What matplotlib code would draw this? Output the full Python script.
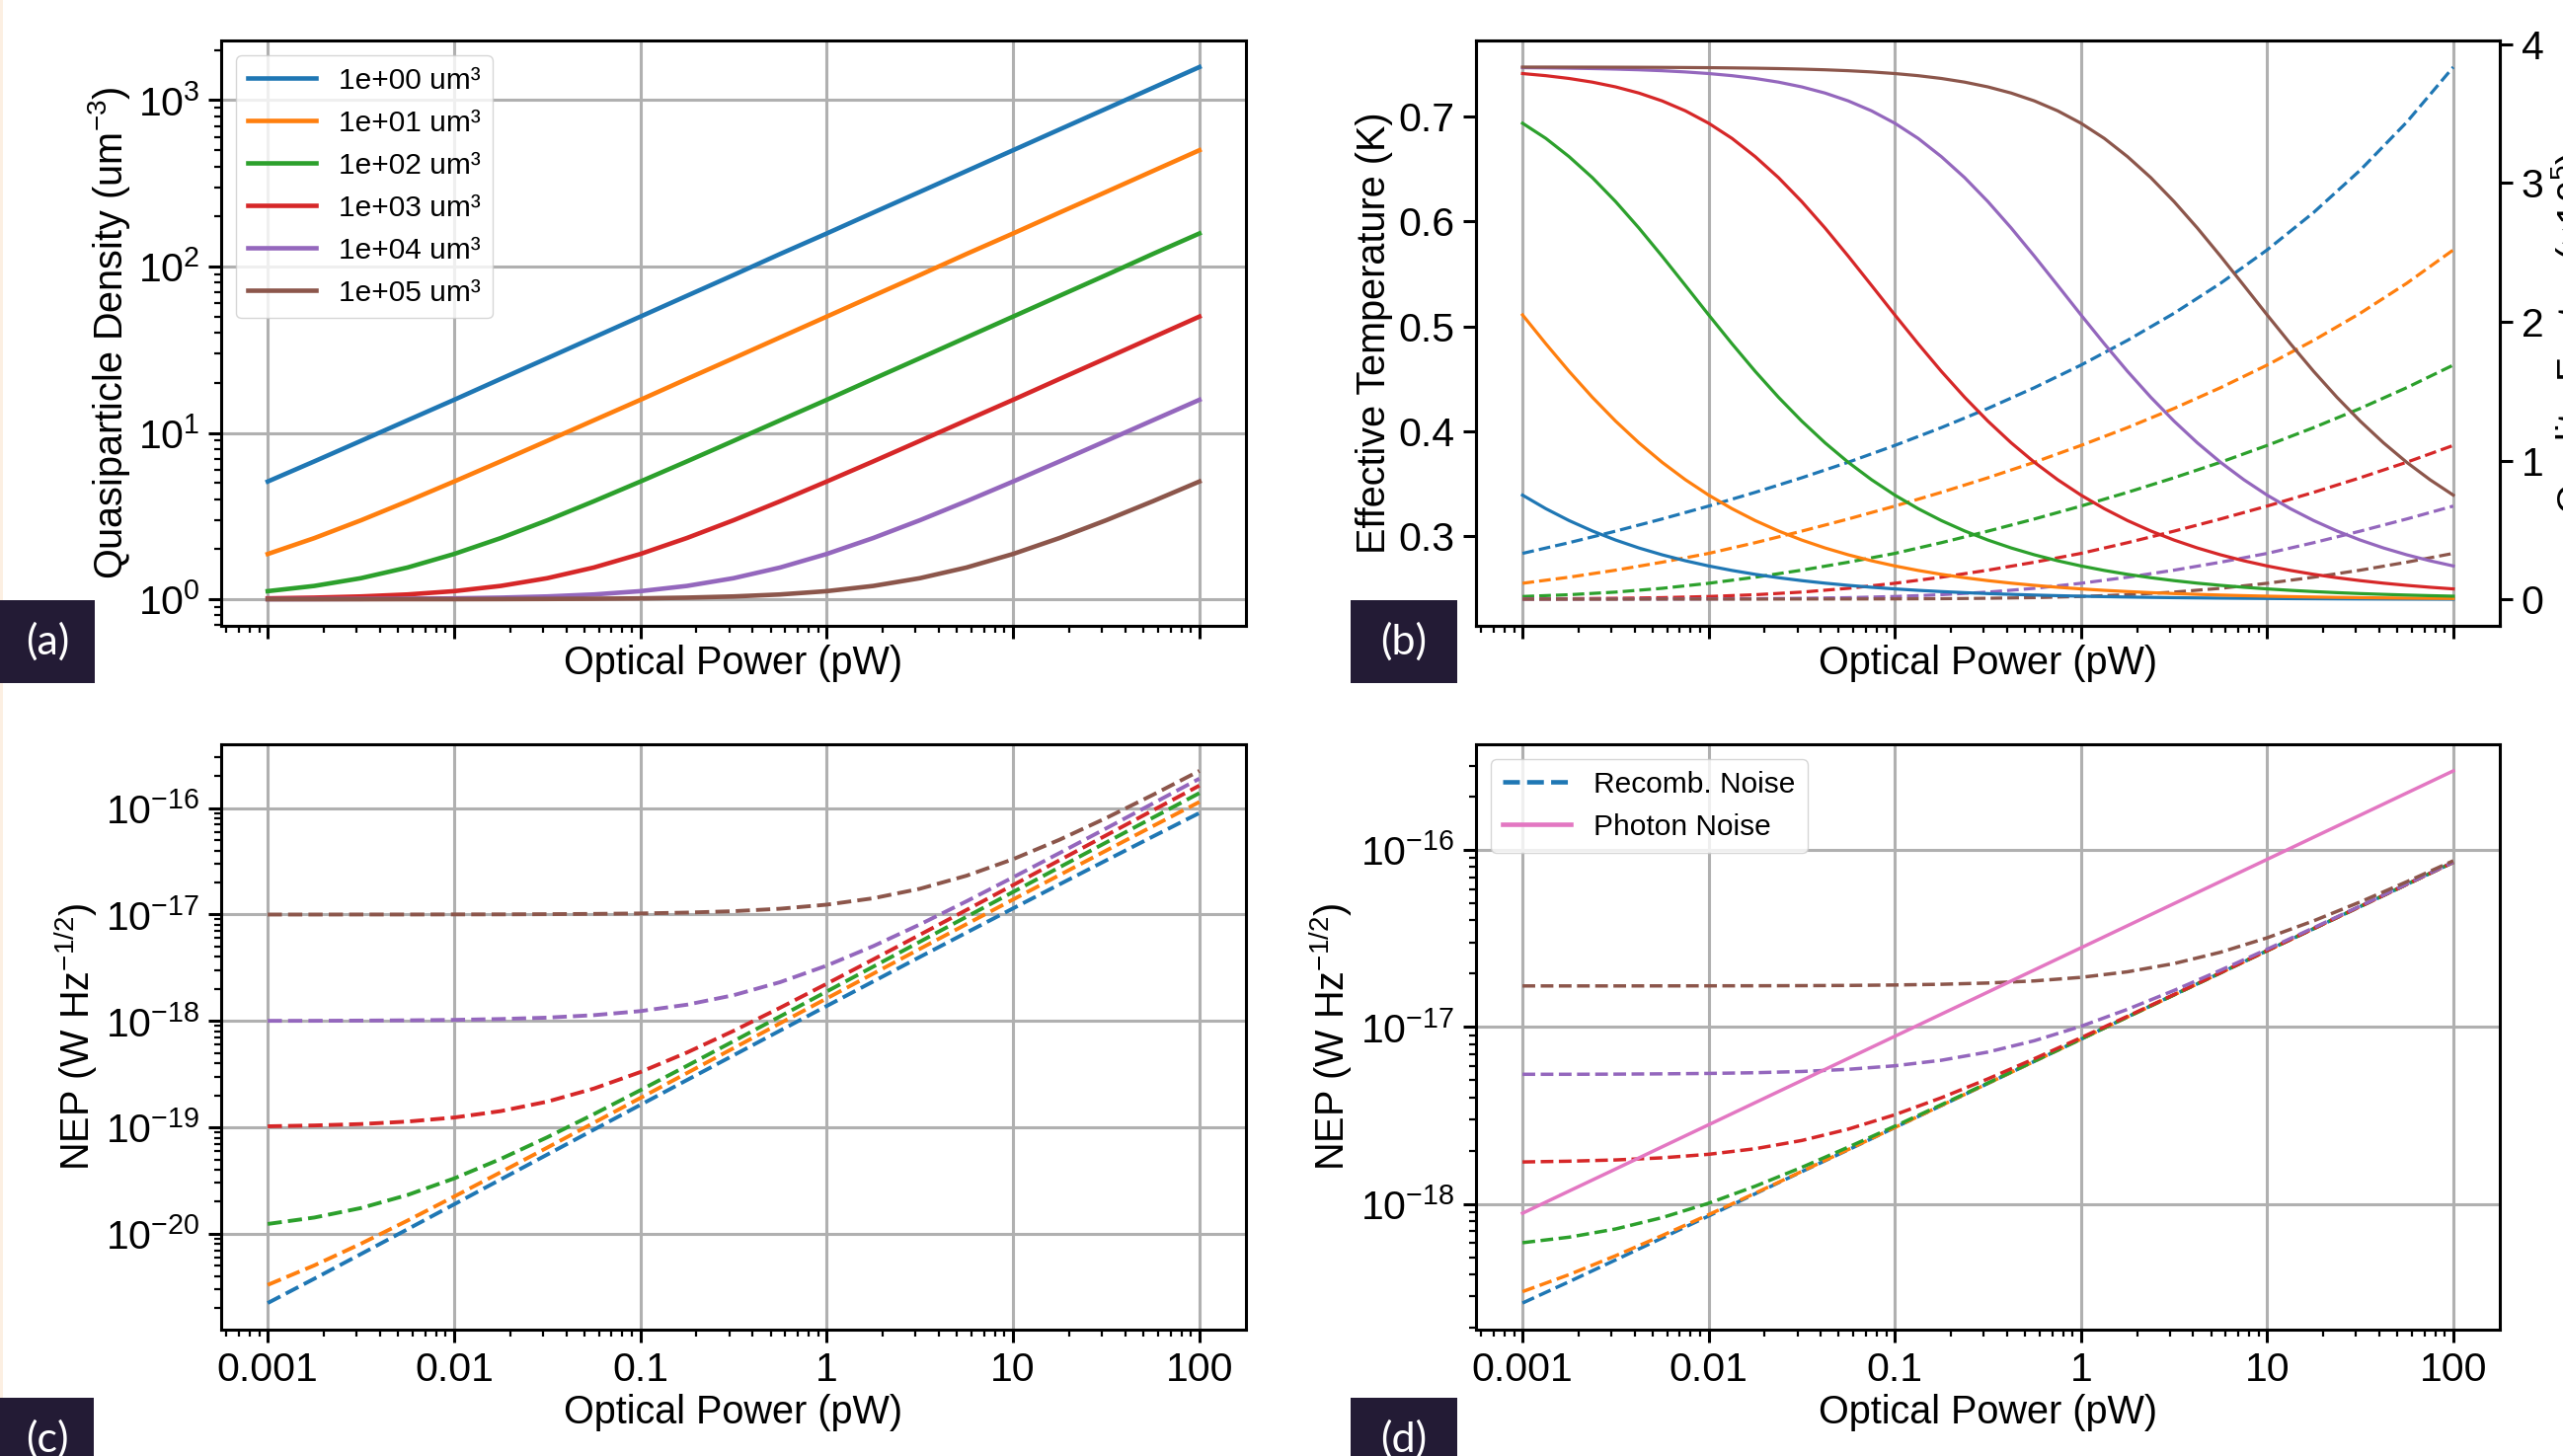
import matplotlib
matplotlib.use("Agg")
import matplotlib.pyplot as plt
from matplotlib.lines import Line2D
from matplotlib.patches import Rectangle

plt.rcParams["font.family"] = ["Liberation Sans", "DejaVu Sans"]
plt.rcParams["mathtext.fontset"] = "custom"
plt.rcParams["mathtext.rm"] = "Liberation Sans"
plt.rcParams["mathtext.it"] = "Liberation Sans:italic"
plt.rcParams["mathtext.bf"] = "Liberation Sans:bold"
plt.rcParams["axes.linewidth"] = 2.2
plt.rcParams["xtick.major.size"] = 9.5
plt.rcParams["ytick.major.size"] = 9.5
plt.rcParams["xtick.minor.size"] = 5.0
plt.rcParams["ytick.minor.size"] = 5.0
plt.rcParams["xtick.major.width"] = 2.2
plt.rcParams["ytick.major.width"] = 2.2
plt.rcParams["xtick.minor.width"] = 1.6
plt.rcParams["ytick.minor.width"] = 1.6
plt.rcParams["xtick.major.pad"] = 6
plt.rcParams["ytick.major.pad"] = 6
plt.rcParams["xtick.labelsize"] = 29.5
plt.rcParams["ytick.labelsize"] = 29.5
plt.rcParams["axes.labelsize"] = 28.5
plt.rcParams["grid.color"] = "#b0b0b0"
plt.rcParams["grid.linewidth"] = 2.2

# optical power grid (pW), quarter decades
power = [0.001, 0.001778, 0.003162, 0.005623, 0.01, 0.01778, 0.03162, 0.05623,
         0.1, 0.1778, 0.3162, 0.5623, 1, 1.778, 3.162, 5.623, 10, 17.78,
         31.62, 56.23, 100]
# eighth-decade grid used for the quality factor curves of (b)
power_fine = [0.001, 0.001334, 0.001778, 0.002371, 0.003162, 0.004217, 0.005623,
              0.007499, 0.01, 0.01334, 0.01778, 0.02371, 0.03162, 0.04217,
              0.05623, 0.07499, 0.1, 0.1334, 0.1778, 0.2371, 0.3162, 0.4217,
              0.5623, 0.7499, 1, 1.334, 1.778, 2.371, 3.162, 4.217, 5.623,
              7.499, 10, 13.34, 17.78, 23.71, 31.62, 42.17, 56.23, 74.99, 100]

volume_labels = ["1e+00 um³", "1e+01 um³", "1e+02 um³",
                 "1e+03 um³", "1e+04 um³", "1e+05 um³"]

# (a) quasiparticle density (um^-3)
density_1e0 = [5.10, 6.74, 8.95, 11.9, 15.8, 21.1, 28.1, 37.5, 50.0, 66.7, 88.9,
               119, 158, 211, 281, 375, 500, 667, 889, 1186, 1581]
density_1e1 = [1.87, 2.33, 2.98, 3.88, 5.10, 6.74, 8.95, 11.9, 15.8, 21.1, 28.1,
               37.5, 50.0, 66.7, 88.9, 119, 158, 211, 281, 375, 500]
density_1e2 = [1.118, 1.202, 1.338, 1.551, 1.87, 2.33, 2.98, 3.88, 5.10, 6.74,
               8.95, 11.9, 15.8, 21.1, 28.1, 37.5, 50.0, 66.7, 88.9, 119, 158]
density_1e3 = [1.012, 1.022, 1.039, 1.068, 1.118, 1.202, 1.338, 1.551, 1.871,
               2.334, 2.984, 3.881, 5.10, 6.74, 8.95, 11.9, 15.8, 21.1, 28.1,
               37.5, 50.0]
density_1e4 = [1.001, 1.002, 1.004, 1.007, 1.012, 1.022, 1.039, 1.068, 1.118,
               1.202, 1.338, 1.551, 1.871, 2.334, 2.984, 3.881, 5.10, 6.74,
               8.95, 11.9, 15.8]
density_1e5 = [1.000, 1.000, 1.000, 1.001, 1.001, 1.002, 1.004, 1.007, 1.012,
               1.022, 1.039, 1.068, 1.118, 1.202, 1.338, 1.551, 1.871, 2.334,
               2.984, 3.881, 5.10]

# (b) effective temperature (K), dashed, left axis
temp_1e0 = [0.2837, 0.2939, 0.3049, 0.3165, 0.3288, 0.3419, 0.3558, 0.3706,
            0.3866, 0.4036, 0.4219, 0.4417, 0.4632, 0.4868, 0.5126, 0.5412,
            0.5730, 0.6087, 0.6490, 0.6948, 0.7473]
temp_1e1 = [0.2552, 0.2610, 0.2677, 0.2753, 0.2837, 0.2939, 0.3049, 0.3165,
            0.3288, 0.3419, 0.3558, 0.3706, 0.3866, 0.4036, 0.4219, 0.4417,
            0.4632, 0.4868, 0.5126, 0.5412, 0.5730]
temp_1e2 = [0.2426, 0.2443, 0.2468, 0.2504, 0.2552, 0.2610, 0.2677, 0.2753,
            0.2837, 0.2939, 0.3049, 0.3165, 0.3288, 0.3419, 0.3558, 0.3706,
            0.3866, 0.4036, 0.4219, 0.4417, 0.4632]
temp_1e3 = [0.2403, 0.2405, 0.2409, 0.2415, 0.2426, 0.2443, 0.2468, 0.2504,
            0.2552, 0.2610, 0.2677, 0.2753, 0.2837, 0.2939, 0.3049, 0.3165,
            0.3288, 0.3419, 0.3558, 0.3706, 0.3866]
temp_1e4 = [0.2401, 0.2401, 0.2402, 0.2402, 0.2403, 0.2405, 0.2409, 0.2415,
            0.2426, 0.2443, 0.2468, 0.2504, 0.2552, 0.2610, 0.2677, 0.2753,
            0.2837, 0.2939, 0.3049, 0.3165, 0.3288]
temp_1e5 = [0.2400, 0.2400, 0.2400, 0.2401, 0.2401, 0.2401, 0.2402, 0.2402,
            0.2403, 0.2405, 0.2409, 0.2415, 0.2426, 0.2443, 0.2468, 0.2504,
            0.2552, 0.2610, 0.2677, 0.2753, 0.2837]

# (b) quality factor (x1e5), solid, right axis, on power_fine
quality_1e0 = [0.7523, 0.6546, 0.5690, 0.4941, 0.4287, 0.3718, 0.3224, 0.2794,
               0.2421, 0.2098, 0.1817, 0.1574, 0.1363, 0.1181, 0.1023, 0.0886,
               0.0767, 0.0664, 0.0575, 0.0498, 0.0431, 0.0374, 0.0324, 0.0280,
               0.0243, 0.0210, 0.0182, 0.0158, 0.0136, 0.0118, 0.0102, 0.0089,
               0.0077, 0.0066, 0.0058, 0.0050, 0.0043, 0.0037, 0.0032, 0.0028,
               0.0024]
quality_1e1 = [2.0504, 1.8427, 1.6438, 1.4573, 1.2854, 1.1291, 0.9885, 0.8632,
               0.7523, 0.6546, 0.5690, 0.4941, 0.4287, 0.3718, 0.3224, 0.2794,
               0.2421, 0.2098, 0.1817, 0.1574, 0.1363, 0.1181, 0.1023, 0.0886,
               0.0767, 0.0664, 0.0575, 0.0498, 0.0431, 0.0374, 0.0324, 0.0280,
               0.0243, 0.0210, 0.0182, 0.0158, 0.0136, 0.0118, 0.0102, 0.0089,
               0.0077]
quality_1e2 = [3.4310, 3.3220, 3.1905, 3.0394, 2.8667, 2.6765, 2.4731, 2.2625,
               2.0504, 1.8427, 1.6438, 1.4573, 1.2854, 1.1291, 0.9885, 0.8632,
               0.7523, 0.6546, 0.5690, 0.4941, 0.4287, 0.3718, 0.3224, 0.2794,
               0.2421, 0.2098, 0.1817, 0.1574, 0.1363, 0.1181, 0.1023, 0.0886,
               0.0767, 0.0664, 0.0575, 0.0498, 0.0431, 0.0374, 0.0324, 0.0280,
               0.0243]
quality_1e3 = [3.7889, 3.7736, 3.7535, 3.7271, 3.6928, 3.6485, 3.5918, 3.5202,
               3.4310, 3.3220, 3.1905, 3.0394, 2.8667, 2.6765, 2.4731, 2.2625,
               2.0504, 1.8427, 1.6438, 1.4573, 1.2854, 1.1291, 0.9885, 0.8632,
               0.7523, 0.6546, 0.5690, 0.4941, 0.4287, 0.3718, 0.3224, 0.2794,
               0.2421, 0.2098, 0.1817, 0.1574, 0.1363, 0.1181, 0.1023, 0.0886,
               0.0767]
quality_1e4 = [3.8312, 3.8296, 3.8275, 3.8247, 3.8209, 3.8160, 3.8093, 3.8005,
               3.7889, 3.7736, 3.7535, 3.7271, 3.6928, 3.6485, 3.5918, 3.5202,
               3.4310, 3.3220, 3.1905, 3.0394, 2.8667, 2.6765, 2.4731, 2.2625,
               2.0504, 1.8427, 1.6438, 1.4573, 1.2854, 1.1291, 0.9885, 0.8632,
               0.7523, 0.6546, 0.5690, 0.4941, 0.4287, 0.3718, 0.3224, 0.2794,
               0.2421]
quality_1e5 = [3.8355, 3.8354, 3.8351, 3.8349, 3.8345, 3.8340, 3.8333, 3.8324,
               3.8312, 3.8296, 3.8275, 3.8247, 3.8209, 3.8160, 3.8093, 3.8005,
               3.7889, 3.7736, 3.7535, 3.7271, 3.6928, 3.6485, 3.5918, 3.5202,
               3.4310, 3.3220, 3.1905, 3.0394, 2.8667, 2.6765, 2.4731, 2.2625,
               2.0504, 1.8427, 1.6438, 1.4573, 1.2854, 1.1291, 0.9885, 0.8632,
               0.7523]

# (c) NEP (W Hz^-1/2)
nep_c_1e0 = [2.237e-21, 3.788e-21, 6.454e-21, 1.104e-20, 1.891e-20, 3.241e-20,
             5.554e-20, 9.517e-20, 1.628e-19, 2.785e-19, 4.759e-19, 8.122e-19,
             1.383e-18, 2.352e-18, 3.993e-18, 6.764e-18, 1.142e-17, 1.924e-17,
             3.230e-17, 5.402e-17, 8.995e-17]
nep_c_1e1 = [3.312e-21, 5.050e-21, 8.072e-21, 1.331e-20, 2.237e-20, 3.788e-20,
             6.454e-20, 1.104e-19, 1.891e-19, 3.241e-19, 5.554e-19, 9.517e-19,
             1.628e-18, 2.785e-18, 4.759e-18, 8.122e-18, 1.383e-17, 2.352e-17,
             3.993e-17, 6.764e-17, 1.142e-16]
nep_c_1e2 = [1.238e-20, 1.422e-20, 1.746e-20, 2.316e-20, 3.312e-20, 5.050e-20,
             8.072e-20, 1.331e-19, 2.237e-19, 3.788e-19, 6.454e-19, 1.104e-18,
             1.891e-18, 3.241e-18, 5.554e-18, 9.517e-18, 1.628e-17, 2.785e-17,
             4.759e-17, 8.122e-17, 1.383e-16]
nep_c_1e3 = [1.024e-19, 1.043e-19, 1.075e-19, 1.134e-19, 1.238e-19, 1.422e-19,
             1.746e-19, 2.316e-19, 3.312e-19, 5.050e-19, 8.072e-19, 1.331e-18,
             2.237e-18, 3.788e-18, 6.454e-18, 1.104e-17, 1.891e-17, 3.241e-17,
             5.554e-17, 9.517e-17, 1.628e-16]
nep_c_1e4 = [1.003e-18, 1.004e-18, 1.008e-18, 1.014e-18, 1.024e-18, 1.043e-18,
             1.075e-18, 1.134e-18, 1.238e-18, 1.422e-18, 1.746e-18, 2.316e-18,
             3.312e-18, 5.050e-18, 8.072e-18, 1.331e-17, 2.237e-17, 3.788e-17,
             6.454e-17, 1.104e-16, 1.891e-16]
nep_c_1e5 = [1.000e-17, 1.000e-17, 1.001e-17, 1.001e-17, 1.003e-17, 1.004e-17,
             1.008e-17, 1.014e-17, 1.024e-17, 1.043e-17, 1.075e-17, 1.134e-17,
             1.238e-17, 1.422e-17, 1.746e-17, 2.316e-17, 3.312e-17, 5.050e-17,
             8.072e-17, 1.331e-16, 2.237e-16]

# (d) recombination NEP and photon NEP (W Hz^-1/2)
nep_d_1e0 = [2.75e-19, 3.63e-19, 4.82e-19, 6.41e-19, 8.54e-19, 1.14e-18,
             1.52e-18, 2.02e-18, 2.70e-18, 3.59e-18, 4.79e-18, 6.39e-18,
             8.52e-18, 1.14e-17, 1.52e-17, 2.02e-17, 2.70e-17, 3.59e-17,
             4.79e-17, 6.39e-17, 8.52e-17]
nep_d_1e1 = [3.19e-19, 3.98e-19, 5.09e-19, 6.62e-19, 8.69e-19, 1.149e-18,
             1.525e-18, 2.028e-18, 2.700e-18, 3.598e-18, 4.796e-18, 6.394e-18,
             8.524e-18, 1.137e-17, 1.516e-17, 2.022e-17, 2.695e-17, 3.595e-17,
             4.793e-17, 6.392e-17, 8.52e-17]
nep_d_1e2 = [6.03e-19, 6.48e-19, 7.21e-19, 8.36e-19, 1.008e-18, 1.258e-18,
             1.608e-18, 2.092e-18, 2.748e-18, 3.634e-18, 4.823e-18, 6.414e-18,
             8.538e-18, 1.138e-17, 1.517e-17, 2.022e-17, 2.696e-17, 3.595e-17,
             4.793e-17, 6.393e-17, 8.52e-17]
nep_d_1e3 = [1.725e-18, 1.742e-18, 1.771e-18, 1.820e-18, 1.906e-18, 2.049e-18,
             2.281e-18, 2.644e-18, 3.189e-18, 3.978e-18, 5.086e-18, 6.615e-18,
             8.691e-18, 1.149e-17, 1.525e-17, 2.028e-17, 2.700e-17, 3.598e-17,
             4.796e-17, 6.394e-17, 8.524e-17]
nep_d_1e4 = [5.40e-18, 5.40e-18, 5.41e-18, 5.43e-18, 5.46e-18, 5.51e-18,
             5.60e-18, 5.76e-18, 6.03e-18, 6.48e-18, 7.21e-18, 8.36e-18,
             1.008e-17, 1.258e-17, 1.608e-17, 2.092e-17, 2.748e-17, 3.634e-17,
             4.823e-17, 6.414e-17, 8.538e-17]
nep_d_1e5 = [1.705e-17, 1.705e-17, 1.705e-17, 1.706e-17, 1.707e-17, 1.708e-17,
             1.711e-17, 1.716e-17, 1.726e-17, 1.742e-17, 1.771e-17, 1.820e-17,
             1.906e-17, 2.049e-17, 2.281e-17, 2.644e-17, 3.189e-17, 3.978e-17,
             5.086e-17, 6.615e-17, 8.691e-17]
nep_photon = [8.85e-19, 1.181e-18, 1.574e-18, 2.100e-18, 2.80e-18, 3.734e-18,
              4.979e-18, 6.640e-18, 8.854e-18, 1.181e-17, 1.574e-17, 2.100e-17,
              2.80e-17, 3.734e-17, 4.979e-17, 6.640e-17, 8.854e-17, 1.181e-16,
              1.574e-16, 2.100e-16, 2.80e-16]

density = [density_1e0, density_1e1, density_1e2, density_1e3, density_1e4, density_1e5]
temps = [temp_1e0, temp_1e1, temp_1e2, temp_1e3, temp_1e4, temp_1e5]
qualities = [quality_1e0, quality_1e1, quality_1e2, quality_1e3, quality_1e4, quality_1e5]
nep_c = [nep_c_1e0, nep_c_1e1, nep_c_1e2, nep_c_1e3, nep_c_1e4, nep_c_1e5]
nep_d = [nep_d_1e0, nep_d_1e1, nep_d_1e2, nep_d_1e3, nep_d_1e4, nep_d_1e5]

x_ticks = [0.001, 0.01, 0.1, 1, 10, 100]
x_tick_labels = ["0.001", "0.01", "0.1", "1", "10", "100"]
colors = ["C0", "C1", "C2", "C3", "C4", "C5"]

W, H = 2596, 1475
fig = plt.figure(figsize=(W / 100, H / 100), dpi=100)


def place(left, top, right, bottom):
    return fig.add_axes([left / W, 1 - bottom / H, (right - left) / W, (bottom - top) / H])


def tag(x0, y0, x1, y1, text):
    fig.add_artist(Rectangle((x0 / W, 1 - y1 / H), (x1 - x0) / W, (y1 - y0) / H,
                             transform=fig.transFigure, color="#231b35", lw=0))
    fig.text((x0 + x1) / 2 / W, 1 - (y0 + 42) / H, text, color="white",
             family=["Lato", "DejaVu Sans"], fontsize=31, ha="center", va="center")


# thin beige strip at the left edge
fig.add_artist(Rectangle((0, 0), 3 / W, 1, transform=fig.transFigure,
                         color="#fcefe2", lw=0))

# (a)
ax_a = place(224, 41, 1262, 634)
for vals, c, lab in zip(density, colors, volume_labels):
    ax_a.plot(power, vals, color=c, lw=3.3, label=lab)
ax_a.set_xscale("log")
ax_a.set_yscale("log")
ax_a.grid(True)
ax_a.tick_params(axis="x", which="both", labelbottom=False)
ax_a.set_xlabel("Optical Power (pW)")
ax_a.set_ylabel("Quasiparticle Density (um$^{-3}$)")
ax_a.legend(loc="upper left", fontsize=21.5, handlelength=2.3)

# (b)
ax_b = place(1495, 41, 2532, 634)
ax_b2 = ax_b.twinx()
for vals, c in zip(temps, colors):
    ax_b.plot(power, vals, color=c, lw=2.3, ls="--")
for vals, c in zip(qualities, colors):
    ax_b2.plot(power_fine, vals, color=c, lw=2.3)
ax_b.set_xscale("log")
ax_b.grid(True, axis="x")
ax_b.tick_params(axis="x", which="both", labelbottom=False)
ax_b.set_xlabel("Optical Power (pW)")
ax_b.set_ylabel("Effective Temperature (K)")
ax_b.set_yticks([0.3, 0.4, 0.5, 0.6, 0.7])
ax_b2.set_yticks([0, 1, 2, 3, 4])
ax_b2.set_ylabel("Quality Factor (×10$^5$)")

# (c)
ax_c = place(224, 754, 1262, 1347)
for vals, c in zip(nep_c, colors):
    ax_c.plot(power, vals, color=c, lw=2.8, ls="--")
ax_c.set_xscale("log")
ax_c.set_yscale("log")
ax_c.grid(True)
ax_c.set_xticks(x_ticks, labels=x_tick_labels)
ax_c.set_xlabel("Optical Power (pW)")
ax_c.set_ylabel("NEP (W Hz$^{-1/2}$)")

# (d)
ax_d = place(1495, 754, 2532, 1347)
for vals, c in zip(nep_d, colors):
    ax_d.plot(power, vals, color=c, lw=2.5, ls="--")
ax_d.plot(power, nep_photon, color="C6", lw=2.5)
ax_d.set_xscale("log")
ax_d.set_yscale("log")
ax_d.grid(True)
ax_d.set_xticks(x_ticks, labels=x_tick_labels)
ax_d.set_xlabel("Optical Power (pW)")
ax_d.set_ylabel("NEP (W Hz$^{-1/2}$)")
handles = [Line2D([], [], color="C0", lw=3.3, ls="--"),
           Line2D([], [], color="C6", lw=3.3)]
ax_d.legend(handles, ["Recomb. Noise", "Photon Noise"], loc="upper left",
            fontsize=21.5, handlelength=2.3)

tag(0, 608, 96, 692, "(a)")
tag(1368, 608, 1476, 692, "(b)")
tag(0, 1416, 95, 1500, "(c)")
tag(1368, 1416, 1476, 1500, "(d)")

fig.savefig("out.png", dpi=100)
